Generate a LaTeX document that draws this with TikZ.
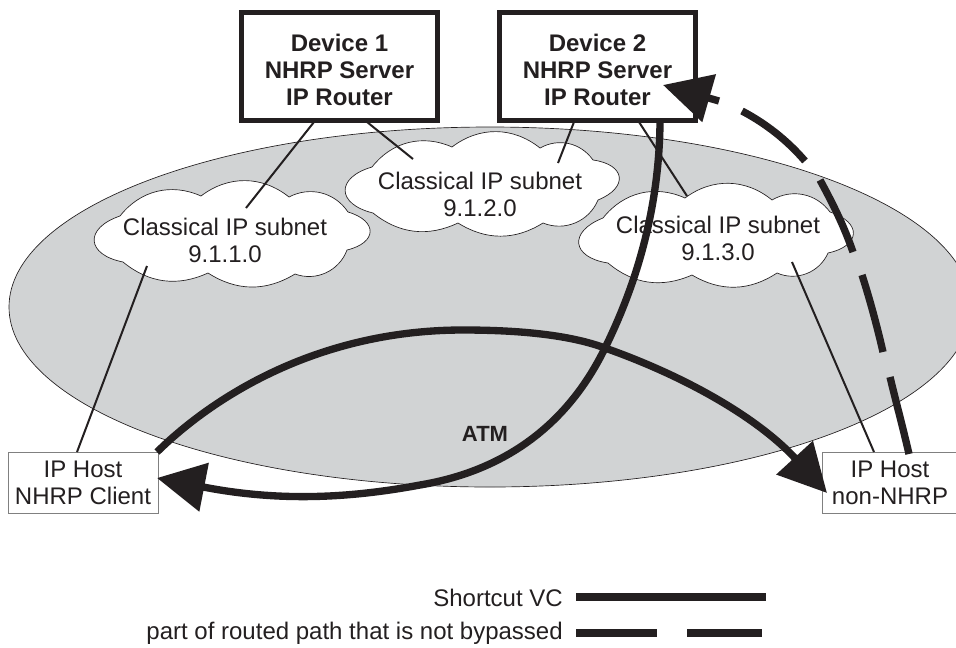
\documentclass[tikz,border=0pt]{standalone}
\usepackage{fontspec}
\setmainfont{Liberation Sans}
\usetikzlibrary{arrows.meta}
\definecolor{ink}{HTML}{231F20}
\definecolor{atm}{HTML}{D1D3D4}
\tikzset{
  regular/.style={font=\fontsize{18}{20.25}\selectfont,text=ink,align=center,inner sep=0pt},
  device/.style={regular,font=\bfseries\fontsize{18}{20.25}\selectfont,draw=ink,fill=white,line width=3.75pt,minimum width=147pt,minimum height=81pt},
  hostbox/.style={regular,draw=gray,fill=white,line width=.75pt,minimum height=45.75pt},
  cloudshape/.style={draw=ink,line width=.5pt,fill=white},
  lobe/.style={bend left=75,looseness=2.1},
  link/.style={draw=ink,line width=1.5pt},
  vc/.style={draw=ink,line width=5.5pt},
  legendbar/.style={draw=ink,line width=6pt},
  tip/.style={-{Triangle[length=36pt,width=36pt,color=ink]}}
}
\begin{document}
\begin{tikzpicture}[x=.75pt,y=-.75pt]
\useasboundingbox (0,0) rectangle (956,647);
\clip (0,0) rectangle (956,647);
% ATM ellipse
\fill[atm,draw=ink,line width=.5pt] (490,307) ellipse [x radius=481,y radius=180];
% clouds
\path[cloudshape] (120,216) to[bend left=38] (201,196) to[bend left=38] (289,197) to[bend left=42] (348,212)
  to[lobe] (347,250) to[bend left=45] (295,274) to[bend left=32] (208,273) to[bend left=32] (123,262) to[lobe] cycle;
\path[cloudshape] (372,167) to[bend left=38] (452,147) to[bend left=38] (540,148) to[bend left=42] (593,160)
  to[lobe] (598,200) to[bend left=45] (543,223) to[bend left=32] (458,223) to[bend left=32] (373,213) to[lobe] cycle;
\path[cloudshape] (603,218) to[bend left=38] (685,198) to[bend left=38] (772,200) to[bend left=42] (830,212)
  to[lobe] (828,253) to[bend left=45] (777,273) to[bend left=32] (692,275) to[bend left=32] (608,263) to[lobe] cycle;
\node[regular] (c1) at (225,240) {Classical IP subnet\\9.1.1.0};
\node[regular] (c2) at (480,194) {Classical IP subnet\\9.1.2.0};
\node[regular] (c3) at (718,238) {Classical IP subnet\\9.1.3.0};
\node[regular,font=\bfseries\fontsize{16.5}{20}\selectfont] (atmlabel) at (485,434) {ATM};
% boxes
\node[device] (d1) at (339.5,66.5) {\rule{0pt}{18pt}Device 1\\NHRP Server\\IP Router};
\node[device] (d2) at (597.5,66.5) {\rule{0pt}{18pt}Device 2\\NHRP Server\\IP Router};
\node[hostbox,minimum width=112.5pt] (h1) at (83,482.5) {IP Host\\NHRP Client};
\node[hostbox,minimum width=101.5pt] (h2) at (890,482.5) {IP Host\\non-NHRP};
% anchors for connectors
\coordinate (d1a) at (314,122); \coordinate (c1a) at (246,208);
\coordinate (d1b) at (367,122); \coordinate (c2a) at (413,159);
\coordinate (d2a) at (574,122); \coordinate (c2b) at (558,163);
\coordinate (d2b) at (639,122); \coordinate (c3a) at (687,196);
\coordinate (c1b) at (147,266); \coordinate (h1a) at (77,452);
\coordinate (c3b) at (792,262); \coordinate (h2a) at (874,452);
\coordinate (d2c) at (660,123); \coordinate (h1b) at (157,478);
\coordinate (h1c) at (157,452); \coordinate (h2b) at (827,493);
\coordinate (h2c) at (909,454); \coordinate (d2d) at (663,85);
\draw[link] (d1a) -- (c1a);
\draw[link] (d1b) -- (c2a);
\draw[link] (d2a) -- (c2b);
\draw[link] (d2b) -- (c3a);
\draw[link] (c1b) -- (h1a);
\draw[link] (c3b) -- (h2a);
% shortcut VCs
\draw[vc,tip] (d2c) .. controls (659,210) and (636,285) .. (605,348)
  .. controls (570,420) and (510,470) .. (420,485)
  .. controls (350,498) and (280,502) .. (h1b);
\draw[vc,tip] (h1c) .. controls (215,395) and (320,330) .. (463,330)
  .. controls (520,330) and (570,335) .. (605,348)
  .. controls (690,378) and (760,420) .. (h2b);
% routed path, part by part
\draw[vc] (h2c) .. controls (903,428) and (896,402) .. (890,377);
\draw[vc] (883,352) .. controls (877,326) and (870,300) .. (862,275);
\draw[vc] (853,252) .. controls (844,226) and (833,204) .. (820,180);
\draw[vc] (805,161) .. controls (787,140) and (765,123) .. (742,111);
\draw[vc,tip] (719,101) -- (d2d);
% legend
\node[regular,anchor=east] (s) at (563,598) {Shortcut VC};
\node[regular,anchor=east] (p) at (563,633) {part of routed path that is not bypassed};
\coordinate (sa) at (576,597); \coordinate (sb) at (766,597);
\coordinate (pa) at (576,633); \coordinate (pb) at (657,633);
\coordinate (pc) at (687,633); \coordinate (pd) at (762,633);
\draw[legendbar] (sa) -- (sb);
\draw[legendbar] (pa) -- (pb);
\draw[legendbar] (pc) -- (pd);
\end{tikzpicture}
\end{document}
